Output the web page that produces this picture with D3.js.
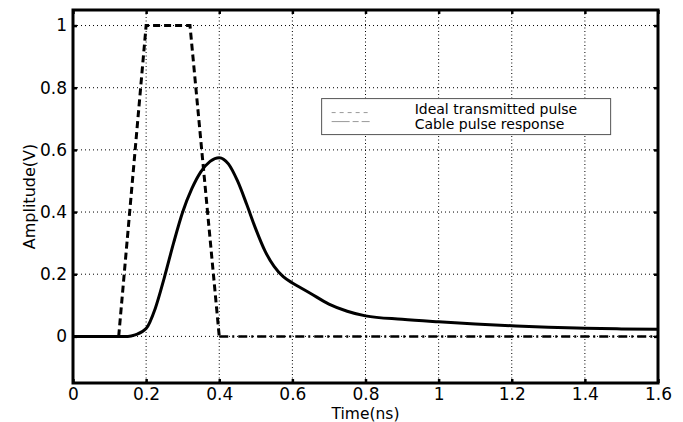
<!DOCTYPE html>
<html>
<head>
<meta charset="utf-8">
<script src="https://cdn.jsdelivr.net/npm/d3@7"></script>
<style>
  body { margin: 0; background: #fff; }
  text { font-family: "DejaVu Sans", sans-serif; fill: #000; }
</style>
</head>
<body>
<div id="chart"></div>
<script>
// ideal transmitted pulse (trapezoid), then flat tail
const pulseTime = [0.125, 0.2, 0.32, 0.4, 1.6];
const pulseAmp = [0, 1, 1, 0, 0];

// cable pulse response
const cableTime = [0, 0.15, 0.17, 0.2, 0.225, 0.25, 0.275, 0.3, 0.325, 0.35, 0.375, 0.4,
  0.425, 0.45, 0.475, 0.5, 0.525, 0.55, 0.575, 0.6, 0.625, 0.65, 0.7, 0.75, 0.8, 0.9, 1.0,
  1.1, 1.2, 1.3, 1.4, 1.5, 1.6];
const cableAmp = [0, 0, 0.005, 0.025, 0.09, 0.19, 0.3, 0.4, 0.475, 0.53, 0.563, 0.575,
  0.555, 0.5, 0.425, 0.345, 0.275, 0.225, 0.192, 0.172, 0.155, 0.138, 0.104, 0.081, 0.066,
  0.055, 0.047, 0.04, 0.034, 0.029, 0.026, 0.024, 0.023];

const xTicks = [0, 0.2, 0.4, 0.6, 0.8, 1, 1.2, 1.4, 1.6];
const yTicks = [0, 0.2, 0.4, 0.6, 0.8, 1];
const legendLabels = ['Ideal transmitted pulse', 'Cable pulse response'];

const W = 683, H = 422;
const margin = { top: 10, right: 25, bottom: 39, left: 73 };
const width = W - margin.left - margin.right;
const height = H - margin.top - margin.bottom;

const svg = d3.select('#chart')
  .append('svg')
    .attr('width', W)
    .attr('height', H);

const chart = svg.append('g')
    .attr('transform', `translate(${margin.left},${margin.top})`);

const x = d3.scaleLinear().domain([0, 1.6]).range([0, width]);
const y = d3.scaleLinear().domain([-0.15, 1.05]).range([height, 0]);

// dotted grid
chart.append('g')
  .selectAll('line')
  .data(xTicks.slice(1, -1))
  .join('line')
    .attr('x1', d => x(d)).attr('x2', d => x(d))
    .attr('y1', 0).attr('y2', height)
    .attr('stroke', '#000')
    .attr('stroke-width', 1)
    .attr('stroke-dasharray', '1,2.5');

chart.append('g')
  .selectAll('line')
  .data(yTicks)
  .join('line')
    .attr('x1', 0).attr('x2', width)
    .attr('y1', d => y(d)).attr('y2', d => y(d))
    .attr('stroke', '#000')
    .attr('stroke-width', 1)
    .attr('stroke-dasharray', '1,3');

// axes
const xAxis = chart.append('g')
    .attr('transform', `translate(0,${height})`)
    .call(d3.axisBottom(x).tickValues(xTicks).tickFormat(d3.format('')).tickSizeInner(-4).tickSizeOuter(0).tickPadding(5));
const xTop = chart.append('g')
    .call(d3.axisTop(x).tickValues(xTicks).tickFormat('').tickSizeInner(-4).tickSizeOuter(0));
const yAxis = chart.append('g')
    .call(d3.axisLeft(y).tickValues(yTicks).tickFormat(d3.format('')).tickSizeInner(-4).tickSizeOuter(0).tickPadding(6));
const yRight = chart.append('g')
    .attr('transform', `translate(${width},0)`)
    .call(d3.axisRight(y).tickValues(yTicks).tickFormat('').tickSizeInner(-4).tickSizeOuter(0));

[xAxis, xTop, yAxis, yRight].forEach(a => {
  a.select('.domain').remove();
  a.selectAll('.tick line').attr('stroke', '#000').attr('stroke-width', 2.5);
  a.selectAll('.tick text').style('font-size', '17px').style('font-family', '"DejaVu Sans", sans-serif').attr('fill', '#000');
});

// frame
chart.append('rect')
    .attr('width', width)
    .attr('height', height)
    .attr('fill', 'none')
    .attr('stroke', '#000')
    .attr('stroke-width', 3);

// lines
chart.append('path')
    .datum(cableTime.map((t, i) => [t, cableAmp[i]]))
    .attr('fill', 'none')
    .attr('stroke', '#000')
    .attr('stroke-width', 3)
    .attr('d', d3.line().x(d => x(d[0])).y(d => y(d[1])).curve(d3.curveMonotoneX));

const pulse = pulseTime.map((t, i) => [t, pulseAmp[i]]);
const pulseLine = d3.line().x(d => x(d[0])).y(d => y(d[1]));

chart.append('path')
    .datum(pulse.slice(0, 4))
    .attr('fill', 'none')
    .attr('stroke', '#000')
    .attr('stroke-width', 3)
    .attr('stroke-dasharray', '7,4')
    .attr('d', pulseLine);

chart.append('path')
    .datum(pulse.slice(3))
    .attr('fill', 'none')
    .attr('stroke', '#000')
    .attr('stroke-width', 2.5)
    .attr('stroke-dasharray', '9,4,2,4')
    .attr('d', pulseLine);

// legend
const legend = chart.append('g')
    .attr('transform', `translate(${x(0.68)},${y(0.765)})`);

legend.append('rect')
    .attr('width', 289)
    .attr('height', 36)
    .attr('fill', '#fff')
    .attr('stroke', '#555')
    .attr('stroke-width', 1);

const entry = legend.selectAll('g')
  .data(legendLabels)
  .join('g')
    .attr('transform', (d, i) => `translate(0,${15 + i * 15})`);

entry.append('line')
    .attr('x1', 10).attr('x2', 48)
    .attr('y1', (d, i) => i === 0 ? -1 : -7)
    .attr('y2', (d, i) => i === 0 ? -1 : -7)
    .attr('stroke', '#999')
    .attr('stroke-width', 1)
    .attr('stroke-dasharray', (d, i) => i === 0 ? '4,4' : '18,3,6,3');

entry.append('text')
    .attr('x', 93)
    .style('font-size', '14px')
    .text(d => d);

// axis titles
svg.append('text')
    .attr('x', margin.left + width / 2)
    .attr('y', 419)
    .attr('text-anchor', 'middle')
    .style('font-size', '15.5px')
    .text('Time(ns)');

svg.append('text')
    .attr('transform', `translate(35,${margin.top + height / 2}) rotate(-90)`)
    .attr('text-anchor', 'middle')
    .style('font-size', '16px')
    .text('Amplitude(V)');
</script>
</body>
</html>
